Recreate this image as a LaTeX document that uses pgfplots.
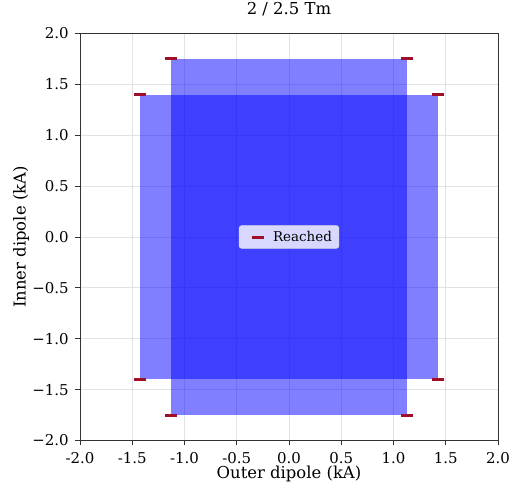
\documentclass[border=0pt]{standalone}
\usepackage{fontspec}
\setmainfont{DejaVu Serif}
\usepackage{pgfplots}
\pgfplotsset{compat=1.18}
\definecolor{markred}{RGB}{160,15,40}
\definecolor{gridgray}{RGB}{226,226,226}
\begin{document}
\begin{tikzpicture}
\begin{axis}[
  scale only axis, width=418bp, height=407bp,
  xmin=-2, xmax=2, ymin=-2, ymax=2,
  xtick={-2,-1.5,-1,-0.5,0,0.5,1,1.5,2},
  ytick={-2,-1.5,-1,-0.5,0,0.5,1,1.5,2},
  xticklabels={-2.0,-1.5,-1.0,-0.5,0.0,0.5,1.0,1.5,2.0},
  yticklabels={−2.0,−1.5,−1.0,−0.5,0.0,0.5,1.0,1.5,2.0},
  tick align=outside, major tick length=4.7bp,
  tick style={black!80, line width=0.9bp},
  xtick pos=bottom, ytick pos=left,
  axis line style={black!80, line width=0.9bp},
  grid=major, major grid style={gridgray, line width=0.9bp},
  tick label style={font=\fontsize{15}{17}\selectfont},
  label style={font=\fontsize{16.5}{19}\selectfont},
  xticklabel style={anchor=base, yshift=-18.5bp, inner sep=0pt},
  yticklabel style={anchor=base east, xshift=-6.5bp, yshift=-5.4bp, inner sep=0pt},
  title={2 / 2.5 Tm},
  title style={at={(axis description cs:0.5,1.0332)}, anchor=base, inner sep=0pt, font=\fontsize{16.5}{19}\selectfont},
  xlabel={Outer dipole (kA)},
  xlabel style={at={(axis description cs:0.5,-0.0945)}, anchor=base, inner sep=0pt},
  ylabel={Inner dipole (kA)},
  ylabel style={at={(axis description cs:-0.141,0.5)}, anchor=center, inner sep=0pt},
  legend style={at={(0.5,0.5)}, anchor=center, fill=white, fill opacity=0.8, text opacity=1,
    draw=black!15, rounded corners=2.5bp, inner xsep=5bp, inner ysep=3.5bp,
    font=\fontsize{13.5}{15}\selectfont},
  legend cell align=left,
  legend image code/.code={\path[draw=none,fill=none] (0bp,0bp) -- (27bp,0bp);\draw[line width=3bp, markred] (7.5bp,0bp) -- (19.5bp,0bp);},
]
\coordinate (a) at (rel axis cs:0,0);
\addplot[fill=blue, fill opacity=0.5, draw=none, forget plot] coordinates {(-1.43,-1.4) (1.43,-1.4) (1.43,1.4) (-1.43,1.4)} -- cycle;
\addplot[fill=blue, fill opacity=0.5, draw=none, forget plot] coordinates {(-1.13,-1.75) (1.13,-1.75) (1.13,1.75) (-1.13,1.75)} -- cycle;
\addplot[only marks, mark=-, mark size=6bp, mark options={line width=3bp, color=markred}]
  coordinates {(-1.13,1.75) (1.13,1.75) (-1.13,-1.75) (1.13,-1.75) (-1.43,1.4) (1.43,1.4) (-1.43,-1.4) (1.43,-1.4)};
\addlegendentry{Reached}
\end{axis}
\pgfresetboundingbox
\path ([shift={(-80bp,-42bp)}]a) rectangle ([shift={(432bp,440.5bp)}]a);
\end{tikzpicture}
\end{document}
